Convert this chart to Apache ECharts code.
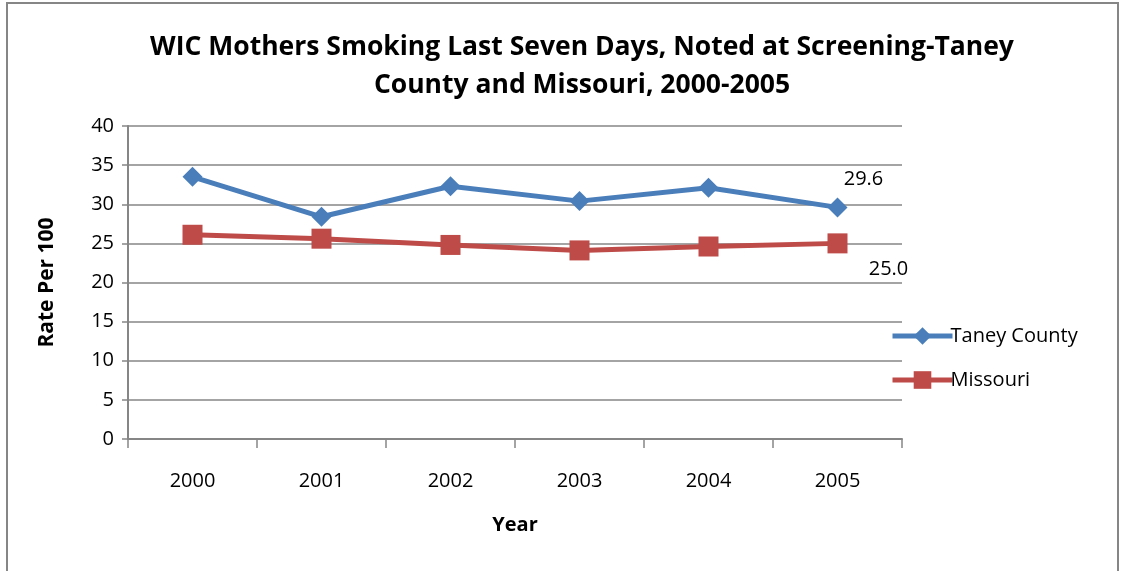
<!DOCTYPE html>
<html><head><meta charset="utf-8">
<script src="https://cdn.jsdelivr.net/npm/echarts@6/dist/echarts.min.js"></script>
<style>html,body{margin:0;padding:0;background:#fff}#c{width:1128px;height:571px}</style>
</head><body><div id="c"></div>
<script>
const categories = ['2000','2001','2002','2003','2004','2005'];
const taney = [33.5, 28.4, 32.3, 30.4, 32.1, 29.6];
const missouri = [26.1, 25.6, 24.8, 24.1, 24.6, 25.0];
const seriesNames = ['Taney County', 'Missouri'];
const titleText = 'WIC Mothers Smoking Last Seven Days, Noted at Screening-Taney\nCounty and Missouri, 2000-2005';

const FONT = 'Open Sans';
const BLUE = '#4a7ebb', RED = '#be4b48';
function withLastLabel(arr, labelOpt) {
  return arr.map((v, i) => i === arr.length - 1
    ? { value: v, label: Object.assign({ show: true, formatter: p => p.value.toFixed(1) }, labelOpt) }
    : v);
}
const chart = echarts.init(document.getElementById('c'), null, { renderer: 'canvas' });
chart.setOption({
  animation: false,
  textStyle: { fontFamily: FONT },
  graphic: [{
    type: 'polyline', shape: { points: [[7, 600], [7, 3], [1118, 3], [1118, 600]] },
    style: { stroke: '#868686', lineWidth: 2, fill: null }
  }],
  title: {
    text: titleText, left: 577, top: 23, textAlign: 'center',
    textStyle: { fontFamily: FONT, fontWeight: 'bold', fontSize: 26.5, lineHeight: 38, color: '#000' }
  },
  legend: {
    orient: 'vertical', left: 885, top: 321, itemGap: 24, itemWidth: 60, itemHeight: 22,
    textStyle: { fontFamily: FONT, fontSize: 20, color: '#000', padding: [0, 0, 0, -7] },
    data: [
      { name: seriesNames[0], lineStyle: { width: 5, color: BLUE } },
      { name: seriesNames[1], lineStyle: { width: 5, color: RED } }
    ]
  },
  grid: { left: 128, right: 226, top: 126, bottom: 132 },
  xAxis: {
    type: 'category', data: categories, boundaryGap: true,
    name: 'Year', nameLocation: 'middle', nameGap: 76,
    nameTextStyle: { fontFamily: FONT, fontWeight: 'bold', fontSize: 20, color: '#000' },
    axisLine: { lineStyle: { color: '#868686', width: 2 } },
    axisTick: { show: true, length: 9, lineStyle: { color: '#868686', width: 1.5 } },
    axisLabel: { fontSize: 20, color: '#000', margin: 32 }
  },
  yAxis: {
    type: 'value', min: 0, max: 40, interval: 5,
    name: 'Rate Per 100', nameLocation: 'middle', nameGap: 70, nameRotate: 90,
    nameTextStyle: { fontFamily: FONT, fontWeight: 'bold', fontSize: 21, color: '#000' },
    axisLine: { show: true, lineStyle: { color: '#868686', width: 2 } },
    axisTick: { show: true, length: 6, lineStyle: { color: '#868686', width: 1.5 } },
    axisLabel: { fontSize: 20, color: '#000', margin: 14 },
    splitLine: { lineStyle: { color: '#868686', width: 1.5 } }
  },
  series: [{
    name: seriesNames[0], type: 'line', data: withLastLabel(taney, { position: 'top', offset: [26, -3], fontSize: 20, color: '#000' }),
    symbol: 'diamond', symbolSize: 20, lineStyle: { width: 5, color: BLUE },
    itemStyle: { color: BLUE }
  }, {
    name: seriesNames[1], type: 'line', data: withLastLabel(missouri, { position: 'bottom', offset: [51, 1], fontSize: 20, color: '#000' }),
    symbol: 'rect', symbolSize: 20, lineStyle: { width: 5, color: RED },
    itemStyle: { color: RED }
  }]
});
</script></body></html>
